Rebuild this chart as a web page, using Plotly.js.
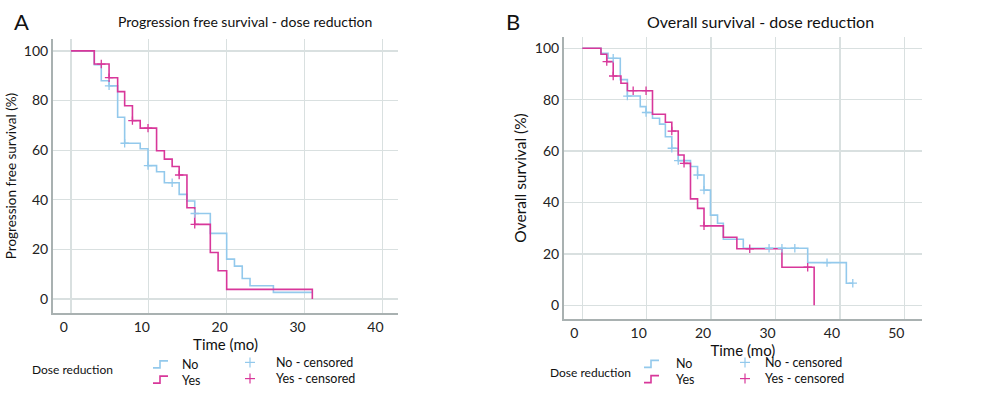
<!DOCTYPE html>
<html>
<head>
<meta charset="utf-8">
<script src="https://cdn.plot.ly/plotly-3.0.1.min.js"></script>
<style>html,body{margin:0;padding:0;background:#fff}#chart{width:1000px;height:395px}</style>
</head>
<body>
<div id="chart"></div>
<script>
// ---- Panel A: Progression free survival ----
const pfsNoTime  = [0, 3, 3.9, 4.9, 6, 6.9, 8.9, 9.9, 11, 12, 13.9, 14.9, 15.9, 17.9, 20, 21, 22, 23, 26, 31];
const pfsNoSurv  = [100, 94.4, 88.0, 85.9, 73.3, 62.8, 60.6, 53.8, 51.3, 46.9, 42.2, 39.5, 34.5, 26.5, 16.1, 13.3, 8.3, 5.4, 2.7, 2.7];
const pfsNoCensTime = [4.9, 6.9, 9.9, 13, 15.9];
const pfsNoCensSurv = [85.9, 62.8, 53.8, 46.9, 34.5];

const pfsYesTime = [0, 3, 4.9, 6, 6.9, 7.9, 8.9, 11, 12, 13, 13.9, 14.9, 15.9, 17.9, 18.9, 20, 31];
const pfsYesSurv = [100, 94.7, 89.2, 83.6, 77.9, 71.9, 68.9, 59.8, 56.4, 53.4, 50.0, 36.8, 30.1, 18.8, 11.4, 3.9, 0];
const pfsYesCensTime = [3.9, 4.9, 7.9, 9.9, 13.9, 15.9];
const pfsYesCensSurv = [94.7, 89.2, 71.9, 68.9, 50.0, 30.1];

// ---- Panel B: Overall survival ----
const osNoTime  = [0, 2.9, 4.0, 5.9, 7.0, 9.0, 9.9, 10.9, 12.0, 12.9, 13.9, 14.9, 16.8, 17.9, 18.9, 19.9, 21.0, 21.9, 25.0, 35.0, 41.0, 42.0];
const osNoSurv  = [100, 98.0, 96.1, 87.8, 81.4, 77.3, 75.0, 72.8, 70.5, 65.6, 61.1, 56.3, 54.0, 50.7, 44.8, 35.1, 31.9, 25.7, 22.2, 16.6, 8.6, 8.6];
const osNoCensTime = [4.8, 7.0, 9.9, 13.9, 14.9, 17.9, 18.9, 29, 31, 33, 38, 42];
const osNoCensSurv = [96.1, 81.4, 75.0, 61.1, 56.3, 50.7, 44.8, 22.2, 22.2, 22.2, 16.6, 8.6];

const osYesTime = [0, 2.9, 3.8, 4.8, 6, 7, 10.9, 12.9, 13.9, 14.9, 15.8, 16.8, 17.9, 18.9, 21.9, 24, 31, 36];
const osYesSurv = [100, 97.7, 94.8, 89.2, 86.4, 83.5, 74.3, 71.2, 67.8, 58.5, 55.2, 41.4, 37.7, 30.9, 26.5, 22.0, 14.8, 0];
const osYesCensTime = [3.8, 4.8, 7.9, 9.9, 13.9, 15.8, 18.9, 26, 35];
const osYesCensSurv = [94.8, 89.2, 83.5, 83.5, 67.8, 55.2, 30.9, 22.0, 14.8];

const xTicksA = [0, 10, 20, 30, 40];
const xTicksB = [0, 10, 20, 30, 40, 50];
const yTicks = [0, 20, 40, 60, 80, 100];
const groupNames = ['No', 'Yes'];
const censNames = ['No - censored', 'Yes - censored'];

const BLUE = '#93c9ec';
const MAG = '#d8379a';
const FONT = 'Lato, "Open Sans", sans-serif';

function stepTrace(x, y, color, xa, ya, name) {
  return {type: 'scatter', mode: 'lines', x: x, y: y, xaxis: xa, yaxis: ya, name: name,
    line: {shape: 'hv', color: color, width: 1.6}, hoverinfo: 'x+y'};
}
function censTrace(x, y, color, xa, ya, name) {
  return {type: 'scatter', mode: 'markers', x: x, y: y, xaxis: xa, yaxis: ya, name: name,
    marker: {symbol: 'cross-thin', size: 6, color: color, line: {color: color, width: 1.3}}};
}

const data = [
  stepTrace(pfsNoTime, pfsNoSurv, BLUE, 'x', 'y', groupNames[0]),
  stepTrace(pfsYesTime, pfsYesSurv, MAG, 'x', 'y', groupNames[1]),
  censTrace(pfsNoCensTime, pfsNoCensSurv, BLUE, 'x', 'y', censNames[0]),
  censTrace(pfsYesCensTime, pfsYesCensSurv, MAG, 'x', 'y', censNames[1]),
  stepTrace(osNoTime, osNoSurv, BLUE, 'x2', 'y2', groupNames[0]),
  stepTrace(osYesTime, osYesSurv, MAG, 'x2', 'y2', groupNames[1]),
  censTrace(osNoCensTime, osNoCensSurv, BLUE, 'x2', 'y2', censNames[0]),
  censTrace(osYesCensTime, osYesCensSurv, MAG, 'x2', 'y2', censNames[1])
];

const X = px => px / 1000;
const Y = py => 1 - py / 395;

const gridC = '#d9e0e0';
const lineC = '#a9b1b1';
function xAxis(domain, range, ticks, anchor, shift, standoff) {
  return {domain: domain, range: range, tickvals: ticks, anchor: anchor,
    showgrid: true, gridcolor: gridC, gridwidth: 1.3, zeroline: false,
    showline: true, linecolor: lineC, linewidth: 2, ticks: '',
    ticklabelshift: shift, tickfont: {family: FONT, size: 14, color: '#222'},
    title: {text: 'Time (mo)', font: {family: FONT, size: 15, color: '#111'}, standoff: standoff},
    automargin: false, fixedrange: true};
}
function yAxis(domain, range, anchor, titleText, tsize) {
  return {domain: domain, range: range, tickvals: yTicks, anchor: anchor,
    showgrid: true, gridcolor: gridC, gridwidth: 1.3, zeroline: false,
    showline: true, linecolor: lineC, linewidth: 2, ticks: '',
    tickfont: {family: FONT, size: 14, color: '#222'},
    title: {text: titleText, font: {family: FONT, size: tsize, color: '#111'}, standoff: 4},
    automargin: false, fixedrange: true};
}

const annotations = [];
const shapes = [];
function txt(text, px, py, size, xanchor) {
  annotations.push({text: text, x: X(px), y: Y(py), xref: 'paper', yref: 'paper',
    xanchor: xanchor || 'center', yanchor: 'middle', showarrow: false, align: 'left',
    borderpad: 0, font: {family: FONT, size: size, color: '#111'}});
}
function stepGlyph(px0, pyTop, color) {
  const x0 = X(px0), x1 = X(px0 + 7), x2 = X(px0 + 15);
  const yb = Y(pyTop + 7), yt = Y(pyTop);
  shapes.push({type: 'path', xref: 'paper', yref: 'paper',
    path: `M ${x0} ${yb} L ${x1} ${yb} L ${x1} ${yt} L ${x2} ${yt}`,
    line: {color: color, width: 1.6}});
}
function crossGlyph(pxc, pyc, color) {
  shapes.push({type: 'line', xref: 'paper', yref: 'paper', x0: X(pxc - 5), x1: X(pxc + 5), y0: Y(pyc), y1: Y(pyc), line: {color: color, width: 1.2}});
  shapes.push({type: 'line', xref: 'paper', yref: 'paper', x0: X(pxc), x1: X(pxc), y0: Y(pyc - 5), y1: Y(pyc + 5), line: {color: color, width: 1.2}});
}

// panel labels and titles
txt('A', 21, 22, 22);
txt('B', 513, 22, 22);
txt('Progression free survival - dose reduction', 245, 22, 14);
txt('Overall survival - dose reduction', 760, 22, 16);

// legends (two-line blocks; line spacing of 12.5px text is ~16px)
function legendBlock(xTitle, yTitle, xGlyph, xName, xCross, xCensName, yCenter, yCensCenter) {
  const half = 8.1;
  txt('Dose reduction', xTitle, yTitle, 12, 'left');
  stepGlyph(xGlyph, yCenter - half - 3, BLUE);
  stepGlyph(xGlyph, yCenter + half - 4, MAG);
  txt(groupNames[0] + '<br>' + groupNames[1], xName, yCenter, 12.5, 'left');
  crossGlyph(xCross, yCensCenter - half, BLUE);
  crossGlyph(xCross, yCensCenter + half, MAG);
  txt(censNames[0] + '<br>' + censNames[1], xCensName, yCensCenter, 12.5, 'left');
}
legendBlock(31, 369, 153, 181, 250, 275, 372, 370.5);
legendBlock(549, 372, 644, 675, 745, 764, 371.5, 370.5);

const layout = {
  width: 1000, height: 395,
  margin: {l: 0, r: 0, t: 0, b: 0},
  paper_bgcolor: '#fff', plot_bgcolor: '#fff',
  showlegend: false,
  font: {family: FONT},
  xaxis: xAxis([X(53), X(398)], [-2.3, 42], xTicksA, 'y', -7, 6),
  yaxis: yAxis([Y(313), Y(39)], [-5.6, 104.8], 'x', 'Progression free survival (%)', 13.5),
  xaxis2: xAxis([X(564), X(921.7)], [-2.84, 52.7], xTicksB, 'y2', -8, 0),
  yaxis2: yAxis([Y(319.3), Y(36.7)], [-5.45, 104.5], 'x2', 'Overall survival (%)', 15.5),
  annotations: annotations,
  shapes: shapes
};

Plotly.newPlot('chart', data, layout, {displayModeBar: false, staticPlot: true});
</script>
</body>
</html>
